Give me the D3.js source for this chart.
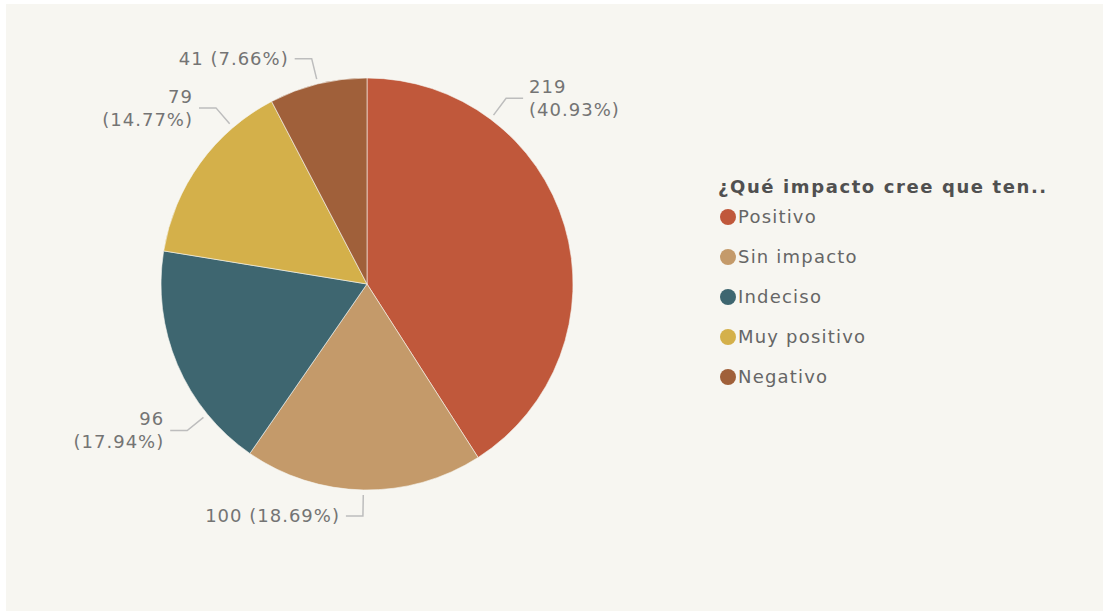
<!DOCTYPE html>
<html>
<head>
<meta charset="utf-8">
<script src="https://cdn.jsdelivr.net/npm/d3@7"></script>
<style>
  html, body { margin: 0; padding: 0; background: #fff; }
  svg { display: block; }
  text { font-family: "DejaVu Sans", Verdana, sans-serif; }
</style>
</head>
<body>
<svg width="1103" height="611"></svg>
<script>
var categories = ["Positivo", "Sin impacto", "Indeciso", "Muy positivo", "Negativo"];
var counts = [219, 100, 96, 79, 41];
var percents = ["40.93%", "18.69%", "17.94%", "14.77%", "7.66%"];
var legendTitle = "¿Qué impacto cree que ten..";

var colors = ["#c0583b", "#c49a6a", "#3e6670", "#d4b04a", "#a0603a"];

// where along each slice the data label sits, and whether it wraps
var labelFrac = [0.25, 0.5, 0.25, 0.755, 0.5];
var labelWrap = [true, false, true, true, false];

var svg = d3.select("svg"),
    width = +svg.attr("width"),
    height = +svg.attr("height");

svg.append("rect")
    .attr("x", 6).attr("y", 4)
    .attr("width", width - 6).attr("height", height - 4)
    .attr("fill", "#f7f6f1");

var cx = 367, cy = 284, radius = 206;

var data = categories.map(function(c, i) {
  return {name: c, value: counts[i], pct: percents[i], color: colors[i], frac: labelFrac[i], wrap: labelWrap[i]};
});

var pie = d3.pie()
    .value(function(d) { return d.value; })
    .sort(null);

var arc = d3.arc().innerRadius(0).outerRadius(radius);

var g = svg.append("g").attr("transform", "translate(" + cx + "," + cy + ")");

var arcs = pie(data);

g.selectAll("path.slice")
    .data(arcs)
  .enter().append("path")
    .attr("class", "slice")
    .attr("d", arc)
    .attr("fill", function(d) { return d.data.color; })
    .attr("stroke", "#f7f6f1")
    .attr("stroke-width", 0.6);

var r1 = 211, r2 = 232, hlen = 17, gap = 6, lineH = 23;

function polar(a, r) { return [Math.sin(a) * r, -Math.cos(a) * r]; }

var labels = g.selectAll("g.lbl")
    .data(arcs)
  .enter().append("g")
    .attr("class", "lbl");

labels.each(function(d) {
  var a = d.startAngle + (d.endAngle - d.startAngle) * d.data.frac;
  var p1 = polar(a, r1), p2 = polar(a, r2);
  var side = Math.sin(a) >= 0 ? 1 : -1;
  var p3 = [p2[0] + side * hlen, p2[1]];
  var el = d3.select(this);
  el.append("polyline")
      .attr("points", [p1, p2, p3].map(function(p) { return p.join(","); }).join(" "))
      .attr("fill", "none")
      .attr("stroke", "#bdbdbd")
      .attr("stroke-width", 1.5);
  var lines = d.data.wrap ? [String(d.data.value), "(" + d.data.pct + ")"]
                          : [d.data.value + " (" + d.data.pct + ")"];
  var t = el.append("text")
      .attr("text-anchor", side > 0 ? "start" : "end")
      .attr("fill", "#747474")
      .style("font-size", "18px")
      .style("letter-spacing", "1px");
  t.selectAll("tspan")
      .data(lines)
    .enter().append("tspan")
      .attr("x", p3[0] + side * gap)
      .attr("y", function(s, i) { return p3[1] + (i - (lines.length - 1) / 2) * lineH; })
      .attr("dy", "0.35em")
      .text(function(s) { return s; });
});

// legend
var legend = svg.append("g").attr("transform", "translate(718,187)");

legend.append("text")
    .attr("x", 0).attr("y", 0).attr("dy", "0.35em")
    .attr("fill", "#505050")
    .style("font-size", "18px")
    .style("font-weight", "bold")
    .style("letter-spacing", "1.6px")
    .text(legendTitle);

var item = legend.selectAll("g.item")
    .data(data)
  .enter().append("g")
    .attr("class", "item")
    .attr("transform", function(d, i) { return "translate(0," + (30 + i * 40) + ")"; });

item.append("circle")
    .attr("cx", 10).attr("cy", 0).attr("r", 8)
    .attr("fill", function(d) { return d.color; });

item.append("text")
    .attr("x", 20).attr("y", 0).attr("dy", "0.35em")
    .attr("fill", "#666")
    .style("font-size", "18px")
    .style("letter-spacing", "1.2px")
    .text(function(d) { return d.name; });
</script>
</body>
</html>
